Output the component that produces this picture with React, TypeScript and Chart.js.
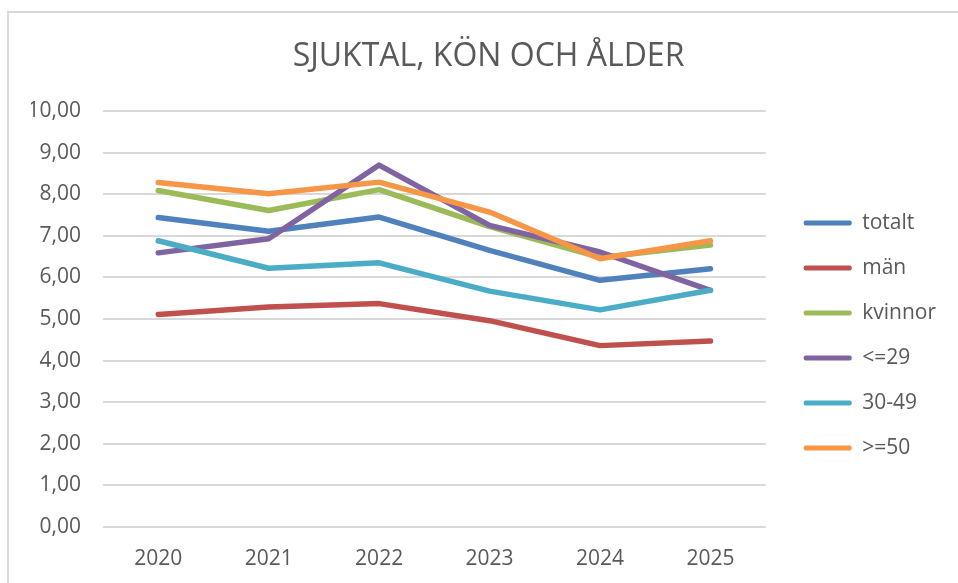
import React, { useEffect, useRef } from "react";
import { Chart, registerables } from "chart.js";

Chart.register(...registerables);

const years = ["2020", "2021", "2022", "2023", "2024", "2025"];
const seriesNames = ["totalt", "män", "kvinnor", "<=29", "30-49", ">=50"];
const totalt = [7.44, 7.11, 7.45, 6.65, 5.93, 6.21];
const man = [5.11, 5.29, 5.37, 4.96, 4.36, 4.47];
const kvinnor = [8.09, 7.61, 8.11, 7.22, 6.48, 6.78];
const under29 = [6.59, 6.93, 8.7, 7.25, 6.61, 5.69];
const mid3049 = [6.88, 6.22, 6.35, 5.67, 5.22, 5.69];
const over50 = [8.28, 8.01, 8.29, 7.57, 6.45, 6.88];
const seriesColors = ["#4F81BD", "#C0504D", "#9BBB59", "#8064A2", "#4BACC6", "#F79646"];
const titleText = "SJUKTAL, KÖN OCH ÅLDER";

const FONT = "'Open Sans', 'Noto Sans', sans-serif";
const TEXT = "#595959";
const GRID = "#D9D9D9";

export default function App() {
  const ref = useRef<HTMLCanvasElement | null>(null);

  useEffect(() => {
    if (!ref.current) return;
    const values = [totalt, man, kvinnor, under29, mid3049, over50];
    const datasets = values.map((d, i) => ({
      label: seriesNames[i],
      data: d,
      borderColor: seriesColors[i],
      backgroundColor: seriesColors[i],
      borderWidth: 5.5,
      borderCapStyle: "round" as const,
      borderJoinStyle: "round" as const,
      pointRadius: 0,
      pointHoverRadius: 0,
      tension: 0,
      fill: false,
      order: values.length - 1 - i,
      yAxisID: "y",
    }));

    const chart = new Chart(ref.current, {
      type: "line",
      data: { labels: years, datasets },
      options: {
        animation: false,
        responsive: false,
        devicePixelRatio: 1,
        layout: { padding: { left: 31, right: 12, top: 0, bottom: 0 } },
        plugins: {
          title: {
            display: true,
            text: titleText,
            color: TEXT,
            font: { family: FONT, size: 32, weight: "normal" },
            padding: { top: 38, bottom: 34.6 },
          },
          legend: {
            display: true,
            position: "right",
            align: "center",
            maxWidth: 400,
            title: { display: true, text: "", font: { size: 10 }, padding: { top: 76, bottom: 0 } },
            labels: {
              color: TEXT,
              font: { family: FONT, size: 21 },
              boxWidth: 48,
              boxHeight: 5,
              padding: 24,
              generateLabels: (c: any) =>
                c.data.datasets.map((ds: any, i: number) => ({
                  text: ds.label,
                  fillStyle: ds.borderColor,
                  strokeStyle: ds.borderColor,
                  lineWidth: 0,
                  borderRadius: 2,
                  hidden: false,
                  datasetIndex: i,
                  fontColor: TEXT,
                })),
            },
          },
          tooltip: { enabled: false },
        },
        scales: {
          x: {
            type: "category",
            offset: true,
            grid: { display: false, drawTicks: false },
            border: { display: false },
            ticks: { color: TEXT, font: { family: FONT, size: 21 }, padding: 19, maxRotation: 0 },
            afterFit: (s: any) => {
              s.height = 56;
            },
          },
          y: {
            type: "linear",
            position: "left",
            min: 0,
            max: 10,
            ticks: {
              stepSize: 1,
              color: TEXT,
              font: { family: FONT, size: 21 },
              padding: 22,
              callback: (v: any) => Number(v).toFixed(2).replace(".", ","),
            },
            grid: { color: GRID, lineWidth: 2, drawTicks: false },
            border: { display: false },
            afterFit: (s: any) => {
              s.width = 72;
            },
          },
          spacer: {
            type: "linear",
            position: "right",
            display: true,
            grid: { display: false, drawTicks: false },
            border: { display: false },
            ticks: { display: false },
            afterFit: (s: any) => {
              s.width = 14;
            },
          },
        },
      },
    } as any);

    return () => chart.destroy();
  }, []);

  return (
    <div
      style={{
        position: "fixed",
        left: 0,
        top: 0,
        width: 958,
        height: 583,
        background: "#ffffff",
        overflow: "hidden",
      }}
    >
      <div
        style={{
          position: "absolute",
          left: 7,
          top: 11,
          width: 1000,
          height: 700,
          borderLeft: "2px solid #D9D9D9",
          borderTop: "2px solid #D9D9D9",
        }}
      />
      <canvas
        ref={ref}
        width={958}
        height={583}
        style={{ position: "absolute", left: 0, top: 0, width: 958, height: 583 }}
      />
    </div>
  );
}
